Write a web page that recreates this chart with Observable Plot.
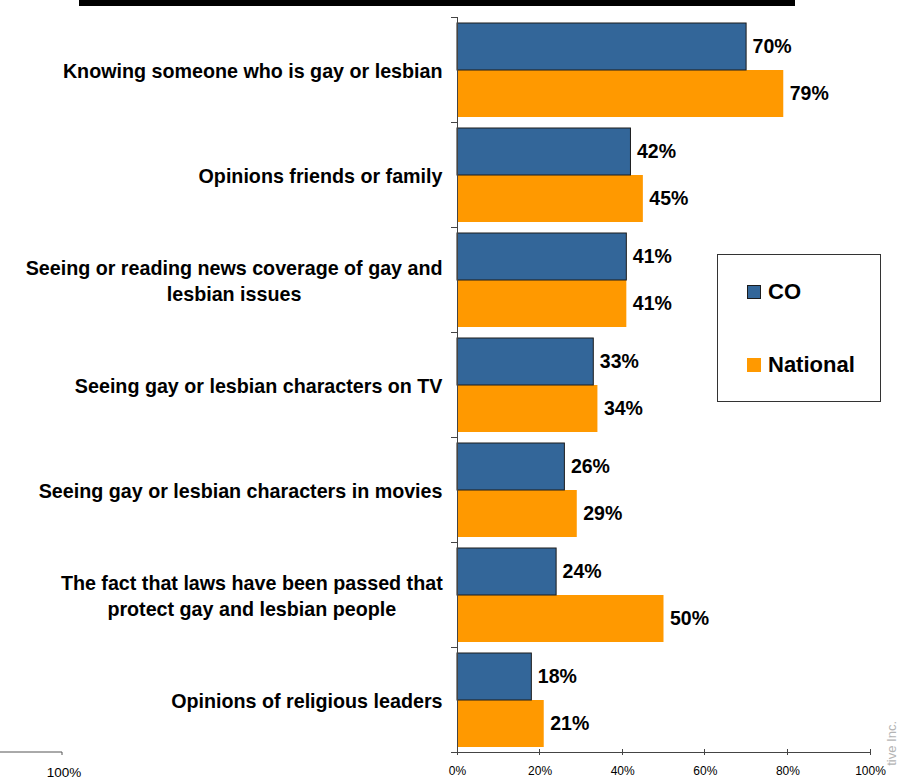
<!DOCTYPE html>
<html><head><meta charset="utf-8">
<script src="https://cdn.jsdelivr.net/npm/d3@7"></script>
<script src="https://cdn.jsdelivr.net/npm/@observablehq/plot@0.6"></script>
<style>
body{margin:0;background:#fff;font-family:"Liberation Sans",Arial,sans-serif;}
#wrap{position:relative;width:901px;height:780px;overflow:hidden;}
#wrap svg{position:absolute;left:0;top:0;}
.topbar{position:absolute;left:79px;top:0;width:716px;height:6px;background:#000;}
.legend{position:absolute;left:717px;top:254px;width:162px;height:146px;border:1px solid #333;background:#fff;box-sizing:content-box;}
.legend .sw{position:absolute;width:14px;height:14px;box-sizing:border-box;}
.legend .lb{position:absolute;font-weight:bold;font-size:22px;line-height:22px;color:#000;}
.wm{position:absolute;left:885px;bottom:14px;font-size:13px;line-height:14px;color:#b4b4b4;writing-mode:vertical-rl;transform:rotate(180deg);white-space:nowrap;}
</style></head><body><div id="wrap"><div class="topbar"></div></div>
<script>
const categories = [
  "Knowing someone who is gay or lesbian",
  "Opinions friends or family",
  "Seeing or reading news coverage of gay and lesbian issues",
  "Seeing gay or lesbian characters on TV",
  "Seeing gay or lesbian characters in movies",
  "The fact that laws have been passed that protect gay and lesbian people",
  "Opinions of religious leaders"
];
const categoryLabels = [
  "Knowing someone who is gay or lesbian",
  "Opinions friends or family",
  "Seeing or reading news coverage of gay and\nlesbian issues",
  "Seeing gay or lesbian characters on TV",
  "Seeing gay or lesbian characters in movies",
  "The fact that laws have been passed that\nprotect gay and lesbian people",
  "Opinions of religious leaders"
];
const series = ["CO", "National"];
const coValues = [0.70, 0.42, 0.41, 0.33, 0.26, 0.24, 0.18];
const nationalValues = [0.79, 0.45, 0.41, 0.34, 0.29, 0.50, 0.21];
const xTicks = [0, 0.2, 0.4, 0.6, 0.8, 1.0];
const seriesColors = ["#336699", "#FF9900"];

const data = categories.flatMap((c, i) => [
  {category: c, series: "CO", value: coValues[i]},
  {category: c, series: "National", value: nationalValues[i]}
]);
const pct = d3.format(".0%");

const plot = Plot.plot({
  width: 901, height: 780,
  marginLeft: 457, marginRight: 31, marginTop: 17, marginBottom: 28,
  style: {fontFamily: "'Liberation Sans', Arial, sans-serif", background: "transparent", color: "#000"},
  x: {domain: [0, 1]},
  fy: {domain: categories, padding: 0},
  y: {domain: series, paddingInner: 0, paddingOuter: 0.094, axis: null},
  color: {domain: series, range: seriesColors},
  marks: [
    Plot.barX(data, {filter: d => d.series === "National", fy: "category", y: "series", x: "value", fill: "series"}),
    Plot.barX(data, {filter: d => d.series === "CO", fy: "category", y: "series", x: "value", fill: "series", stroke: "#1c1c1c", strokeWidth: 1}),
    Plot.text(data, {fy: "category", y: "series", x: "value", text: d => pct(d.value),
      textAnchor: "start", dx: 6, fontSize: 19.5, fontWeight: "bold", fill: "#000"}),
    Plot.ruleX([0], {stroke: "#444", strokeWidth: 1}),
    Plot.axisFy({anchor: "left", tickSize: 0, tickPadding: 15, label: null,
      tickFormat: c => categoryLabels[categories.indexOf(c)],
      fontSize: 19.7, fontWeight: "bold", lineHeight: 1.28, fill: "#000"}),
    Plot.axisX({anchor: "bottom", ticks: xTicks, tickFormat: pct, tickSize: 0, tickPadding: 13.5,
      fontSize: 12, label: null, fill: "#000"})
  ]
});

const wrap = document.getElementById("wrap");
wrap.insertBefore(plot, wrap.firstChild);

// center multi-line category labels on each other
d3.select(plot).selectAll('g[aria-label="fy-axis tick label"] text').each(function() {
  const tspans = this.querySelectorAll("tspan");
  if (tspans.length > 1) {
    const bb = this.getBBox();
    const cx = bb.x + bb.width / 2;
    this.setAttribute("text-anchor", "middle");
    tspans.forEach(t => t.setAttribute("x", cx));
  }
});

// band-boundary ticks, x axis line and crossing ticks, using the plot's scales
const xs = plot.scale("x"), fys = plot.scale("fy");
const x0 = xs.apply(0);
const bounds = categories.map(c => fys.apply(c));
const yBottom = fys.apply(categories[categories.length - 1]) + fys.bandwidth;
bounds.push(yBottom);
const svg = d3.select(plot);
const g = svg.append("g").attr("stroke", "#444").attr("stroke-width", 1).attr("shape-rendering", "crispEdges");
g.selectAll("line.b").data(bounds).join("line")
  .attr("x1", x0 - 6).attr("x2", x0).attr("y1", d => d).attr("y2", d => d);
g.append("line").attr("x1", x0 - 6).attr("x2", xs.apply(1)).attr("y1", yBottom).attr("y2", yBottom);
g.selectAll("line.t").data(xTicks).join("line")
  .attr("x1", d => xs.apply(d)).attr("x2", d => xs.apply(d)).attr("y1", yBottom - 3).attr("y2", yBottom + 3);

// fragments of neighbouring slide content
const frag = svg.append("g");
frag.append("path").attr("d", `M0,${yBottom}H62V${yBottom + 3}`).attr("fill", "none").attr("stroke", "#555");
frag.append("text").attr("x", 64).attr("y", 777).attr("text-anchor", "middle")
  .attr("font-size", 13.5).attr("fill", "#000").text("100%");

const wm = document.createElement("div");
wm.className = "wm";
wm.textContent = "tive Inc.";
wrap.appendChild(wm);

// legend
const legend = document.createElement("div");
legend.className = "legend";
const items = [{name: series[0], color: seriesColors[0], stroke: "#1c1c1c", top: 30},
               {name: series[1], color: seriesColors[1], stroke: null, top: 103}];
items.forEach(it => {
  const sw = document.createElement("div");
  sw.className = "sw";
  sw.style.left = "29px"; sw.style.top = it.top + "px";
  sw.style.background = it.color;
  if (it.stroke) sw.style.border = "1px solid " + it.stroke;
  legend.appendChild(sw);
  const lb = document.createElement("div");
  lb.className = "lb";
  lb.style.left = "50px"; lb.style.top = (it.top - 4) + "px";
  lb.textContent = it.name;
  legend.appendChild(lb);
});
wrap.appendChild(legend);
</script></body></html>
